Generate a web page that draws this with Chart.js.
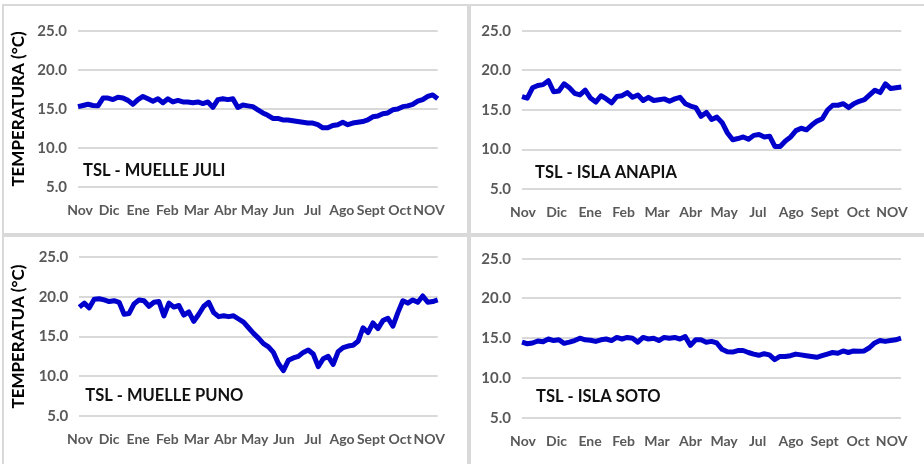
<!DOCTYPE html>
<html>
<head>
<meta charset="utf-8">
<script src="https://cdn.jsdelivr.net/npm/chart.js@4.4.1/dist/chart.umd.min.js"></script>
<style>
  html, body { margin: 0; padding: 0; background: #fff; width: 924px; height: 464px; overflow: hidden; }
  .panel { position: absolute; box-sizing: border-box; border: 2px solid #d9d9d9; }
  .panel canvas { display: block; }
</style>
</head>
<body>
<div class="panel" style="left:2px;top:4px;width:467px;height:231px"><canvas id="c1" width="463" height="227"></canvas></div>
<div class="panel" style="left:469px;top:4px;width:458px;height:231px"><canvas id="c2" width="454" height="227"></canvas></div>
<div class="panel" style="left:2px;top:235px;width:467px;height:233px"><canvas id="c3" width="463" height="229"></canvas></div>
<div class="panel" style="left:469px;top:235px;width:458px;height:233px"><canvas id="c4" width="454" height="229"></canvas></div>
<script>
// month tick labels (the right-hand charts skip Jun)
const monthsLeft = ['Nov', 'Dic', 'Ene', 'Feb', 'Mar', 'Abr', 'May', 'Jun', 'Jul', 'Ago', 'Sept', 'Oct', 'NOV'];
const monthsRight = ['Nov', 'Dic', 'Ene', 'Feb', 'Mar', 'Abr', 'May', 'Jul', 'Ago', 'Sept', 'Oct', 'NOV'];

// surface water temperature (°C), about every 5 days
const muelleJuli = [
  15.3, 15.45, 15.6, 15.45, 15.4, 16.4, 16.4, 16.2, 16.5, 16.4, 16.1, 15.6, 16.2, 16.6, 16.3, 16.0,
  16.3, 15.8, 16.3, 15.9, 16.1, 15.9, 15.9, 15.8, 15.9, 15.7, 15.9, 15.2, 16.2, 16.3, 16.2, 16.3,
  15.2, 15.5, 15.4, 15.3, 14.9, 14.5, 14.2, 13.8, 13.8, 13.6, 13.6, 13.5, 13.4, 13.3, 13.2, 13.2,
  13.0, 12.6, 12.6, 12.9, 13.0, 13.3, 13.0, 13.2, 13.3, 13.4, 13.6, 14.0, 14.1, 14.4, 14.5, 14.9,
  15.0, 15.3, 15.4, 15.6, 16.0, 16.2, 16.6, 16.8, 16.3
];
const islaAnapia = [
  16.7, 16.5, 17.8, 18.1, 18.2, 18.7, 17.3, 17.4, 18.3, 17.8, 17.1, 16.9, 17.5, 16.5, 16.0, 16.8,
  16.4, 15.9, 16.7, 16.8, 17.2, 16.6, 16.9, 16.2, 16.6, 16.2, 16.3, 16.4, 16.1, 16.4, 16.6, 15.8,
  15.5, 15.3, 14.2, 14.7, 13.8, 14.1, 13.4, 12.1, 11.25, 11.4, 11.6, 11.3, 11.8, 11.9, 11.6, 11.7,
  10.4, 10.4, 11.1, 11.6, 12.4, 12.7, 12.5, 13.1, 13.6, 13.9, 15.0, 15.6, 15.6, 15.8, 15.3, 15.8,
  16.1, 16.3, 16.9, 17.5, 17.2, 18.3, 17.7, 17.8, 17.9
];
const muellePuno = [
  18.7, 19.2, 18.6, 19.7, 19.75, 19.6, 19.4, 19.5, 19.3, 17.8, 17.9, 19.1, 19.6, 19.5, 18.8, 19.3,
  19.4, 17.6, 19.2, 18.7, 18.9, 17.7, 18.1, 16.9, 17.8, 18.8, 19.3, 18.0, 17.5, 17.6, 17.5, 17.6,
  17.2, 16.8, 16.1, 15.4, 14.8, 14.1, 13.7, 13.0, 11.6, 10.7, 12.0, 12.3, 12.5, 13.0, 13.3, 12.8,
  11.2, 12.2, 12.5, 11.5, 13.1, 13.6, 13.8, 13.9, 14.4, 16.1, 15.5, 16.7, 16.0, 17.0, 17.3, 16.3,
  18.0, 19.5, 19.2, 19.6, 19.3, 20.1, 19.3, 19.4, 19.6
];
const islaSoto = [
  14.5, 14.3, 14.4, 14.65, 14.55, 14.9, 14.7, 14.8, 14.35, 14.5, 14.7, 15.0, 14.8, 14.75, 14.6, 14.8,
  14.9, 14.7, 15.1, 14.9, 15.1, 15.0, 14.5, 15.1, 14.9, 15.0, 14.7, 15.1, 15.0, 15.1, 14.9, 15.2,
  14.1, 14.8, 14.8, 14.5, 14.6, 14.4, 13.6, 13.3, 13.25, 13.45, 13.45, 13.2, 13.0, 12.85, 13.05, 12.9,
  12.3, 12.7, 12.7, 12.8, 13.0, 12.9, 12.8, 12.7, 12.6, 12.8, 13.0, 13.2, 13.1, 13.4, 13.2, 13.4,
  13.35, 13.4, 13.8, 14.4, 14.7, 14.6, 14.7, 14.8, 15.0
];

// station name written inside the plot area
const stationLabel = {
  id: 'station',
  afterDatasetsDraw(chart, args, o) {
    const { ctx, chartArea, scales } = chart;
    ctx.save();
    ctx.font = 'bold 16.5px Lato';
    ctx.fillStyle = '#111';
    ctx.textBaseline = 'middle';
    ctx.fillText(o.text, chartArea.left + o.dx, scales.y.getPixelForValue(o.y));
    ctx.restore();
  }
};

function makeChart(id, values, months, station, g) {
  new Chart(document.getElementById(id), {
    type: 'line',
    data: {
      labels: values.map((v, i) => i),
      datasets: [{
        data: values,
        borderColor: '#0000cc',
        borderWidth: 5,
        borderJoinStyle: 'round',
        pointRadius: 0,
        tension: 0,
        fill: false
      }]
    },
    options: {
      responsive: false,
      animation: false,
      devicePixelRatio: 1,
      layout: { padding: { left: g.padLeft, right: g.padRight, top: g.padTop, bottom: 0 } },
      plugins: {
        legend: { display: false },
        tooltip: { enabled: false },
        station: { text: station, dx: g.dx, y: g.labelY }
      },
      scales: {
        x: { type: 'category', display: false },
        m: {
          type: 'linear',
          axis: 'x',
          position: 'bottom',
          min: g.mMin,
          max: months.length - 1 + g.mEnd,
          afterBuildTicks: s => { s.ticks = months.map((m, i) => ({ value: i })); },
          afterFit: s => { s.height = g.xHeight; },
          grid: { display: false },
          border: { display: false },
          ticks: {
            autoSkip: false,
            maxRotation: 0,
            padding: 7,
            color: '#595959',
            font: { family: 'Lato', size: 14, weight: 'bold' },
            callback: v => months[v]
          }
        },
        y: {
          min: 5,
          max: 25,
          afterFit: s => { s.width = g.yWidth; },
          grid: { color: '#d9d9d9', lineWidth: 2, drawTicks: false },
          border: { display: false },
          ticks: {
            stepSize: 5,
            padding: 11,
            color: '#595959',
            font: { family: 'Lato', size: 15, weight: 'bold' },
            callback: v => v.toFixed(1)
          },
          title: {
            display: !!g.yTitle,
            text: g.yTitle,
            padding: 0,
            color: '#000',
            font: { family: 'Lato', size: 17, weight: 'bold' }
          }
        }
      }
    },
    plugins: [stationLabel]
  });
}

makeChart('c1', muelleJuli, monthsLeft, 'TSL - MUELLE JULI',
  { padLeft: 4.5, yWidth: 69.5, padRight: 29.3, padTop: 24.7, xHeight: 45.7, mMin: -0.07, mEnd: 0.3, dx: 5, labelY: 7.14, yTitle: 'TEMPERATURA (°C)' });
makeChart('c2', islaAnapia, monthsRight, 'TSL - ISLA ANAPIA',
  { padLeft: 0, yWidth: 51, padRight: 23.7, padTop: 24.7, xHeight: 43.7, mMin: -0.03, mEnd: 0.28, dx: 13, labelY: 7.04 });
makeChart('c3', muellePuno, monthsLeft, 'TSL - MUELLE PUNO',
  { padLeft: 4.2, yWidth: 71.1, padRight: 29.3, padTop: 19, xHeight: 50, mMin: -0.024, mEnd: 0.29, dx: 6, labelY: 7.6, yTitle: 'TEMPERATUA (°C)' });
makeChart('c4', islaSoto, monthsRight, 'TSL - ISLA SOTO',
  { padLeft: 0, yWidth: 51, padRight: 24, padTop: 21.7, xHeight: 48.3, mMin: -0.03, mEnd: 0.28, dx: 14, labelY: 7.6 });
</script>
</body>
</html>
